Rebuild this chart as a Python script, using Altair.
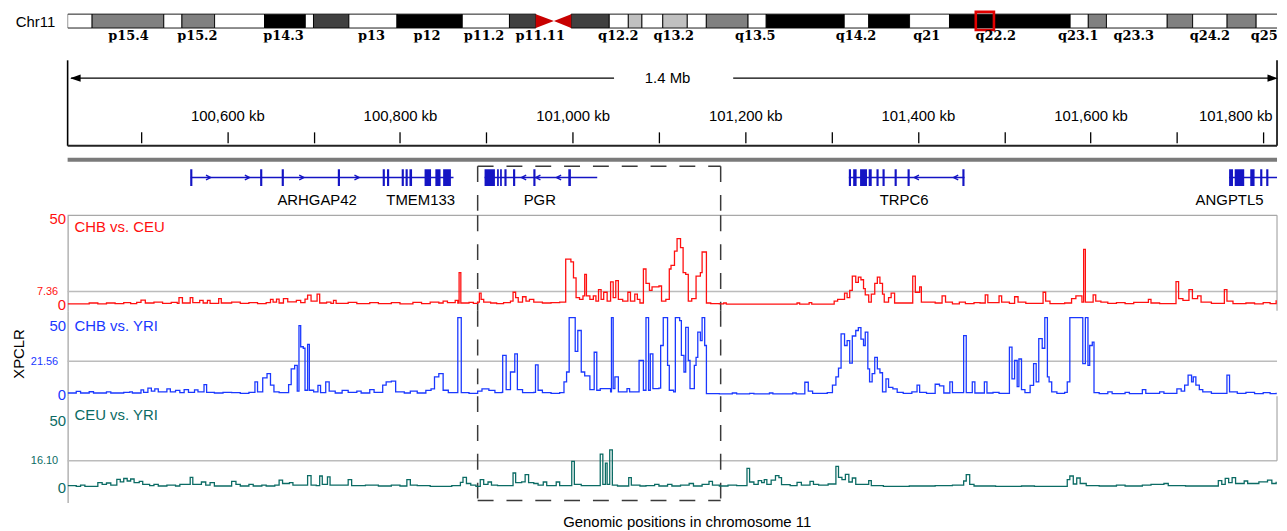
import altair as alt
import pandas as pd

FONT = "Liberation Sans"
W = 1217

# ---------------- data ----------------
X_MIN, X_MAX = 100415, 101816          # genomic window, kb
CHR_MAX = 133.3                        # visible part of chr11, Mb

# chromosome 11 ideogram (Mb)
band_start = [0, 2.7, 10.6, 12.6, 16.2, 21.7, 26.2, 27.1, 31.0, 36.3, 43.5, 48.7,
              55.5, 59.7, 61.8, 63.3, 65.6, 68.3, 70.4, 75.0, 77.0, 85.6, 88.3, 92.8,
              97.2, 110.5, 112.5, 114.5, 121.2, 124.0, 127.8, 131.0]
band_end = [2.7, 10.6, 12.6, 16.2, 21.7, 26.2, 27.1, 31.0, 36.3, 43.5, 48.7, 51.6,
            59.7, 61.8, 63.3, 65.6, 68.3, 70.4, 75.0, 77.0, 85.6, 88.3, 92.8, 97.2,
            110.5, 112.5, 114.5, 121.2, 124.0, 127.8, 131.0, 135.0]
band_stain = ["gneg", "gpos50", "gneg", "gpos50", "gneg", "gpos100", "gneg", "gpos75",
              "gneg", "gpos100", "gneg", "gpos75", "gpos75", "gneg", "gpos25", "gneg",
              "gpos25", "gneg", "gpos50", "gneg", "gpos100", "gneg", "gpos100", "gneg",
              "gpos100", "gneg", "gpos50", "gneg", "gpos50", "gneg", "gpos50", "gneg"]
stain_names = ["gneg", "gpos25", "gpos50", "gpos75", "gpos100"]
stain_colors = ["#ffffff", "#c0c0c0", "#808080", "#404040", "#000000"]
cen_x = [51.6, 53.6, 53.6, 55.5]
cen_arm = ["p", "p", "q", "q"]
cen_top = [1, 0.5, 0.5, 1]
cen_bot = [0, 0.5, 0.5, 0]
band_labels = ["p15.4", "p15.2", "p14.3", "p13", "p12", "p11.2", "p11.11", "q12.2",
               "q13.2", "q13.5", "q14.2", "q21", "q22.2", "q23.1", "q23.3", "q24.2", "q25"]
band_label_mb = [6.7, 14.3, 23.8, 33.5, 39.6, 45.9, 52.1, 60.7, 66.8, 75.8, 86.9, 94.7,
                 102.3, 111.4, 117.5, 125.9, 131.9]
region_mb = [100.1, 102.1]

# scale bar
scale_ticks_kb = [100500, 100600, 100700, 100800, 100900, 101000, 101100,
                  101200, 101300, 101400, 101500, 101600, 101700, 101800]
span_text = "1.4 Mb"
span_text_kb = 101110
span_left_end_kb = 101048
span_right_start_kb = 101186

# genes
gene_names = ["ARHGAP42", "TMEM133", "PGR", "TRPC6", "ANGPTL5"]
gene_label_kb = [100704, 100824, 100962, 101384, 101761]
gene_start = [100557.6, 100786, 100898, 101320, 101760.5]
gene_end = [100786, 100862, 101028.5, 101454, 101822]
exon_start = [100557, 100638, 100663, 100728, 100780, 100785,
              100802, 100806.5, 100811, 100828.5, 100841, 100850,
              100898, 100912.5, 100916, 100921, 100931, 100954.5, 100995,
              101320, 101325, 101333, 101343, 101352, 101359, 101373, 101388, 101451.5,
              101760.5, 101767, 101785, 101796.5, 101803.5]
exon_end = [100559.5, 100640.5, 100665.5, 100730.5, 100782.5, 100787.5,
            100804.5, 100809, 100814, 100836, 100847, 100859,
            100910, 100914.5, 100918, 100923.5, 100933.5, 100957, 100998,
            101322.5, 101329, 101341, 101346.5, 101354.5, 101361.5, 101375.5, 101390.5, 101454,
            101765, 101778, 101790, 101799, 101806]
chev_right_kb = [100578, 100623, 100686, 100750]
chev_left_kb = [100943.5, 100960, 100984, 101398.5, 101444]

# candidate region (dashed box)
box_kb = [100890, 101171.5]

# XPCLR scores (kb, score)
chb_ceu = [(100415,0.5),(100440,1.0),(100450,0.5),(100460,1.0),(100470,0.6),(100480,1.2),(100488,0.6),
 (100495,1.3),(100500,2.6),(100505,1.0),(100515,1.5),(100525,0.8),(100535,1.4),(100542,0.8),(100544,4.0),
 (100548,1.0),(100557,4.0),(100560,1.2),(100568,2.5),(100572,1.0),(100577,2.5),(100580,0.8),(100590,3.5),
 (100593,1.0),(100605,1.5),(100615,0.8),(100625,1.2),(100635,0.7),(100645,1.2),(100650,3.0),(100653,1.5),
 (100657,3.2),(100660,1.0),(100665,3.5),(100670,1.6),(100680,2.5),(100685,1.2),(100690,3.2),(100693,5.4),
 (100697,2.0),(100704,6.0),(100707,1.0),(100715,1.5),(100720,0.8),(100723,2.5),(100726,0.8),(100740,1.3),
 (100750,0.6),(100765,1.2),(100775,0.6),(100790,1.2),(100800,0.5),(100815,1.3),(100825,0.7),(100835,1.5),
 (100845,1.0),(100850,2.0),(100855,1.2),(100864,2.5),(100867,1.0),(100868.5,18.0),(100870.5,1.0),
 (100880,1.4),(100885,0.8),(100890,1.5),(100892,6.5),(100894,3.0),(100897,1.5),(100905,1.0),(100912,0.6),
 (100920,1.2),(100928,2.0),(100931,7.0),(100934,4.0),(100937,1.5),(100942,4.5),(100946,2.0),(100950,3.0),
 (100955,1.5),(100965,1.0),(100975,1.2),(100985,1.5),(100992,25.5),(100998,24.0),(101001,15.0),
 (101004,4.0),(101008,3.0),(101012,5.0),(101014,17.0),(101016,5.0),(101020,3.0),(101024,5.0),(101027,2.0),
 (101030,8.5),(101033,3.0),(101036,7.0),(101040,2.0),(101044,12.8),(101047,4.0),(101050,13.5),(101053,3.0),
 (101058,2.0),(101064,7.0),(101067,2.0),(101072,6.0),(101075,3.0),(101078,1.0),(101082,20.0),(101085,12.0),
 (101089,8.0),(101092,10.0),(101100,10.5),(101103,2.0),(101108,3.0),(101112,20.0),(101114,22.0),
 (101118,30.0),(101121,37.0),(101125,32.0),(101128,18.0),(101131,17.0),(101134,2.0),(101138,3.5),
 (101143,16.0),(101148,18.0),(101150,29.5),(101155,1.0),(101160,0.6),(101170,0.5),(101175,1.0),
 (101178,0.4),(101260,1.0),(101263,0.4),(101274,1.2),(101277,0.4),(101303,2.0),(101307,3.0),(101315,6.5),
 (101318,4.0),(101321,8.0),(101324,16.0),(101328,12.5),(101331,15.5),(101334,14.0),(101337,9.0),
 (101339,5.5),(101343,1.5),(101346,6.0),(101350,12.0),(101353,15.5),(101356,12.0),(101359,6.0),
 (101361,1.5),(101366,4.0),(101369,6.5),(101373,1.0),(101394,16.0),(101397,7.0),(101402,10.0),
 (101404,1.5),(101420,1.0),(101428,5.0),(101432,1.5),(101440,0.5),(101448,1.5),(101455,0.6),(101465,1.2),
 (101472,1.0),(101478,5.5),(101481,1.2),(101494,5.0),(101497,1.5),(101506,0.8),(101512,4.5),(101516,1.5),
 (101525,0.8),(101545,7.0),(101548,2.0),(101553,0.6),(101570,1.0),(101578,3.5),(101583,5.0),(101590,1.5),
 (101592,31.0),(101594,1.5),(101603,5.5),(101606,2.0),(101612,1.5),(101620,0.8),(101630,1.2),(101640,0.6),
 (101650,1.4),(101667,3.0),(101670,1.0),(101680,0.6),(101699,13.0),(101702,3.5),(101707,2.5),(101714,8.5),
 (101718,3.5),(101724,5.0),(101728,1.5),(101740,0.8),(101755,8.5),(101758,2.0),(101765,0.6),(101780,1.0),
 (101790,0.5),(101800,1.2),(101808,0.6),(101815,2.5)]

chb_yri = [(100415,0.8),(100425,1.8),(100430,0.8),(100440,1.6),(100445,0.8),(100460,1.5),(100465,0.8),
 (100480,1.2),(100487,1.5),(100490,0.8),(100500,2.8),(100503,1.2),(100508,4.0),(100512,2.0),(100516,3.5),
 (100520,1.5),(100530,3.5),(100534,1.5),(100540,2.5),(100545,1.0),(100550,3.0),(100555,1.2),(100562,2.8),
 (100566,1.5),(100573,6.3),(100576,1.2),(100585,0.8),(100595,1.2),(100605,1.0),(100615,0.6),(100625,1.2),
 (100632,8.0),(100635,1.5),(100641,10.6),(100646,13.4),(100650,6.0),(100654,1.5),(100660,1.0),(100671,6.3),
 (100674,16.6),(100678,18.8),(100681,2.0),(100683,44.8),(100685,31.0),(100688,30.0),(100690,2.6),
 (100693,32.6),(100695,2.6),(100700,1.5),(100705,5.8),(100708,1.0),(100714,8.0),(100718,2.0),(100725,0.8),
 (100733,2.5),(100740,1.2),(100750,2.0),(100755,0.8),(100765,3.0),(100770,1.2),(100780,6.0),(100784,8.0),
 (100790,8.5),(100795,1.5),(100805,0.8),(100812,2.0),(100820,0.8),(100830,2.5),(100836,3.5),(100840,11.3),
 (100845,13.4),(100850,2.6),(100856,1.0),(100867,50.0),(100871,1.0),(100880,0.6),(100890,2.0),(100895,3.5),
 (100903,2.5),(100910,1.0),(100918,1.2),(100919,25.3),(100923,3.0),(100928,14.5),(100933,26.4),(100936,3.0),
 (100942,1.0),(100955,1.2),(100957,19.2),(100960,2.6),(100965,1.0),(100975,0.6),(100985,1.0),(100990,8.0),
 (100993,14.5),(100996,50.0),(101003,28.0),(101006,41.6),(101010,14.5),(101014,12.0),(101020,3.0),
 (101025,27.4),(101028,2.6),(101032,3.7),(101044,1.5),(101045,50.0),(101047,3.7),(101049,11.3),(101053,1.5),
 (101063,3.7),(101066,1.5),(101077,22.0),(101079,22.0),(101082,2.6),(101085,50.0),(101088,2.6),(101090,26.4),
 (101093,3.7),(101100,4.0),(101102,31.8),(101105,50.0),(101110,18.8),(101112,2.6),(101117,1.5),(101119,50.0),
 (101124,48.0),(101126,25.3),(101129,14.5),(101131,43.7),(101134,22.0),(101136,3.7),(101141,18.8),
 (101143,24.0),(101145,40.5),(101148,35.0),(101150,50.0),(101153,31.8),(101155,0.4),(101170,0.2),
 (101185,0.8),(101190,0.2),(101205,0.6),(101210,0.2),(101228,0.8),(101232,0.2),(101255,0.8),(101259,0.2),
 (101269,7.8),(101273,2.0),(101278,0.5),(101295,1.0),(101301,6.0),(101305,11.3),(101308,17.0),(101311,39.4),
 (101315,31.8),(101318,35.0),(101321,20.3),(101324,38.0),(101328,41.6),(101331,43.5),(101334,36.0),
 (101337,31.8),(101339,40.5),(101342,16.6),(101344,8.0),(101347,13.4),(101350,24.0),(101353,16.6),
 (101356,14.0),(101359,1.5),(101363,10.0),(101366,4.5),(101371,3.5),(101376,1.2),(101383,0.5),(101393,1.5),
 (101399,6.0),(101402,1.2),(101410,0.6),(101420,6.5),(101425,5.5),(101430,0.8),(101437,8.0),(101440,1.0),
 (101453,38.2),(101456,1.0),(101463,8.0),(101466,0.8),(101477,8.0),(101480,0.8),(101487,1.2),(101494,0.6),
 (101506,30.8),(101509,10.0),(101512,22.0),(101515,5.0),(101517,23.0),(101520,3.0),(101524,1.0),(101530,5.8),
 (101534,20.0),(101537,8.0),(101540,36.3),(101544,30.0),(101547,50.0),(101550,11.3),(101552,8.0),
 (101555,1.5),(101561,0.5),(101570,1.2),(101573,8.0),(101576,50.0),(101591,20.0),(101594,50.0),
 (101597,18.8),(101599,31.8),(101602,34.0),(101604,1.0),(101610,0.4),(101620,1.5),(101625,0.4),(101640,1.2),
 (101645,0.4),(101660,3.0),(101664,0.6),(101680,1.5),(101685,0.6),(101700,3.5),(101705,2.0),(101709,6.0),
 (101713,12.4),(101717,8.0),(101719,11.3),(101722,6.0),(101726,3.0),(101730,1.5),(101740,0.5),(101758,12.4),
 (101761,1.5),(101770,0.6),(101780,1.2),(101790,0.4),(101800,1.0),(101808,0.4),(101815,1.0)]

ceu_yri = [(100415,1.2),(100425,0.8),(100430,1.5),(100435,0.8),(100450,3.0),(100455,2.0),(100460,2.8),
 (100465,1.5),(100472,5.0),(100476,3.5),(100480,5.5),(100484,4.0),(100488,5.2),(100492,3.0),(100498,3.8),
 (100502,2.0),(100510,1.2),(100515,2.0),(100520,1.0),(100530,1.5),(100540,1.0),(100545,2.0),(100557,6.2),
 (100560,2.0),(100570,3.4),(100575,1.5),(100580,3.0),(100585,1.0),(100605,3.8),(100610,2.0),(100615,1.0),
 (100625,2.0),(100630,1.0),(100640,1.5),(100645,1.0),(100655,1.5),(100660,4.5),(100664,2.5),(100672,3.0),
 (100676,1.5),(100693,7.2),(100697,1.5),(100703,1.2),(100707,7.0),(100710,2.0),(100716,6.5),(100719,1.5),
 (100740,4.8),(100744,1.2),(100760,1.5),(100775,1.0),(100790,1.5),(100800,1.0),(100808,4.8),(100812,1.5),
 (100820,1.2),(100835,0.8),(100860,1.2),(100870,3.2),(100873,6.2),(100877,2.5),(100882,1.5),(100888,0.8),
 (100893,4.8),(100897,2.0),(100902,3.4),(100906,1.5),(100913,1.2),(100931,8.8),(100934,3.0),(100941,3.5),
 (100945,7.8),(100949,3.0),(100955,2.5),(100960,1.5),(100966,3.4),(100970,1.2),(100981,3.4),(100985,1.2),
 (100999,15.7),(101002,2.0),(101010,1.2),(101032,20.1),(101035,2.0),(101038,14.7),(101040,2.0),
 (101043,22.6),(101046,1.5),(101052,1.0),(101065,6.0),(101068,1.5),(101078,1.0),(101085,1.2),(101095,2.0),
 (101100,1.0),(101110,2.0),(101115,1.0),(101125,1.5),(101135,2.5),(101140,1.0),(101150,2.0),(101158,3.8),
 (101162,1.5),(101170,1.0),(101180,1.5),(101190,1.2),(101202,11.6),(101205,3.4),(101210,2.0),(101215,4.2),
 (101219,3.0),(101222,4.8),(101225,2.0),(101230,4.5),(101235,7.2),(101239,6.0),(101242,1.8),(101252,1.2),
 (101260,3.2),(101265,1.5),(101275,3.8),(101279,2.0),(101285,1.5),(101296,2.2),(101305,12.8),(101308,6.2),
 (101312,4.8),(101316,8.0),(101320,3.4),(101324,5.8),(101328,2.0),(101343,4.2),(101346,1.2),(101360,0.8),
 (101390,1.0),(101420,1.2),(101440,1.5),(101453,4.0),(101456,7.8),(101460,2.0),(101465,1.0),(101490,0.8),
 (101520,1.0),(101535,0.8),(101573,4.8),(101576,7.0),(101580,2.2),(101584,5.8),(101588,2.5),(101595,1.2),
 (101610,1.0),(101630,1.5),(101640,1.0),(101660,1.5),(101670,2.0),(101685,2.5),(101690,1.2),(101710,1.0),
 (101748,4.2),(101752,2.0),(101756,5.6),(101760,3.0),(101764,6.0),(101768,2.5),(101778,4.0),(101782,2.5),
 (101795,3.5),(101805,4.5),(101810,2.5),(101815,3.5)]

track_names = ["CHB vs. CEU", "CHB vs. YRI", "CEU vs. YRI"]
track_thresholds = [7.36, 21.56, 16.10]
track_colors = ["#ff1010", "#1a38ff", "#0b6b64"]

# ---------------- helpers ----------------
ONE = pd.DataFrame({"k": [0]})


def xs():
    return alt.Scale(domain=[X_MIN, X_MAX], nice=False, zero=False)


def Xq(field, axis=None):
    return alt.X(field, type="quantitative", scale=xs(), axis=axis)


def Xd(val, axis=None):
    return alt.XDatum(datum=val, type="quantitative", scale=xs(), axis=axis)


def ysc(lo, hi):
    return alt.Scale(domain=[lo, hi], nice=False, zero=False)


# ---------------- panel A: ideogram ----------------
A_LO, A_HI = -1.036, 1.18
ideo_x = alt.Scale(domain=[0, CHR_MAX], nice=False, zero=False)
axA = alt.Axis(title="Chr11", titleAngle=0, titleAlign="right", titleBaseline="middle",
               titleX=-13, titleY=10, labels=False, ticks=False, domain=False, grid=False,
               titleFontSize=15, titleFontWeight="normal", titleColor="black")


def YA(val):
    return alt.YDatum(datum=val, type="quantitative", scale=ysc(A_LO, A_HI), axis=axA)


bands = pd.DataFrame({"s": band_start, "e": band_end, "stain": band_stain})
cen = pd.DataFrame({"x": cen_x, "arm": cen_arm, "top": cen_top, "bot": cen_bot})
blabels = pd.DataFrame({"x": band_label_mb, "t": band_labels})
region = pd.DataFrame({"s": [region_mb[0]], "e": [region_mb[1]]})

pA = alt.layer(
    alt.Chart(bands).mark_rect(stroke="black", strokeWidth=0.9, clip=True).encode(
        x=alt.X("s:Q", scale=ideo_x, axis=None), x2="e:Q",
        y=YA(0), y2=alt.Y2Datum(datum=1),
        color=alt.Color("stain:N", scale=alt.Scale(domain=stain_names, range=stain_colors), legend=None)),
    alt.Chart(cen).mark_area(color="#c80000", orient="vertical").encode(
        x=alt.X("x:Q", scale=ideo_x, axis=None),
        y=alt.Y("top:Q", scale=ysc(A_LO, A_HI), axis=axA), y2="bot:Q", detail="arm:N"),
    alt.Chart(region).mark_rect(fillOpacity=0, stroke="#e00000", strokeWidth=2.6).encode(
        x=alt.X("s:Q", scale=ideo_x, axis=None), x2="e:Q",
        y=YA(-0.14), y2=alt.Y2Datum(datum=1.16)),
    alt.Chart(blabels).mark_text(font="DejaVu Serif", fontWeight="bold", fontSize=13,
                                 baseline="middle", color="black", clip=True).encode(
        x=alt.X("x:Q", scale=ideo_x, axis=None), y=YA(-0.55), text="t:N"),
).properties(width=W, height=31)

# ---------------- panel B: 1.4 Mb bracket ----------------
B_TOP, B_ARROW = 0.827, 0.654


def YB(val):
    return alt.YDatum(datum=val, type="quantitative", scale=ysc(0, 1), axis=None)


brk = pd.DataFrame({"x": [X_MIN, X_MAX]})
arr = pd.DataFrame({"x": [X_MIN + 4, span_right_start_kb], "x2": [span_left_end_kb, X_MAX - 4]})
head_l = pd.DataFrame({"x": [X_MIN + 9]})
head_r = pd.DataFrame({"x": [X_MAX - 5]})
spn = pd.DataFrame({"x": [span_text_kb], "t": [span_text]})

pB = alt.layer(
    alt.Chart(brk).mark_rule(color="black", strokeWidth=1.6).encode(
        x=Xq("x:Q"), y=YB(0), y2=alt.Y2Datum(datum=B_TOP)),
    alt.Chart(arr).mark_rule(color="black", strokeWidth=1.3).encode(
        x=Xq("x:Q"), x2="x2:Q", y=YB(B_ARROW)),
    alt.Chart(head_l).mark_point(shape="M-1,0L1,-0.7L1,0.7Z", filled=True, size=110,
                                 color="black", opacity=1).encode(x=Xq("x:Q"), y=YB(B_ARROW)),
    alt.Chart(head_r).mark_point(shape="M1,0L-1,-0.7L-1,0.7Z", filled=True, size=110,
                                 color="black", opacity=1).encode(x=Xq("x:Q"), y=YB(B_ARROW)),
    alt.Chart(spn).mark_text(fontSize=15, baseline="middle", color="black").encode(
        x=Xq("x:Q"), y=YB(B_ARROW), text="t:N"),
).properties(width=W, height=104)

# ---------------- panel C: kb axis ----------------
top_axis = alt.Axis(orient="top", values=scale_ticks_kb,
                    labelExpr="datum.value % 200 == 0 ? format(datum.value, ',') + ' kb' : ''",
                    tickSize=11, tickColor="black", tickWidth=1.3, domain=False, offset=3,
                    labelPadding=8, labelFontSize=15, labelColor="black", labelAngle=0,
                    labelFlush=20, labelFlushOffset=9, grid=False, title=None)
line_c = pd.DataFrame({"x": [X_MIN], "x2": [X_MAX]})

pC = alt.layer(
    alt.Chart(line_c).mark_rule(color="#222222", strokeWidth=2).encode(
        x=alt.X("x:Q", scale=xs(), axis=top_axis), x2="x2:Q",
        y=alt.YDatum(datum=1, type="quantitative", scale=ysc(0, 1), axis=None)),
    alt.Chart(line_c).mark_rule(color="#7a7a7a", strokeWidth=4).encode(
        x=alt.X("x:Q", scale=xs(), axis=top_axis), x2="x2:Q",
        y=alt.YDatum(datum=0.125, type="quantitative", scale=ysc(0, 1), axis=None)),
).properties(width=W, height=16)

# ---------------- panel D: genes ----------------
GENE_C = "#1414c4"
G_MID, G_LO, G_HI, G_LAB, BOX_TOP = 0.704, 0.547, 0.861, 0.278, 0.917


def YD(val):
    return alt.YDatum(datum=val, type="quantitative", scale=ysc(0, 1), axis=None)


genes = pd.DataFrame({"s": gene_start, "e": gene_end})
exons = pd.DataFrame({"s": exon_start, "e": exon_end})
glabels = pd.DataFrame({"x": gene_label_kb, "t": gene_names})
chr_df = pd.DataFrame({"x": chev_right_kb})
chl_df = pd.DataFrame({"x": chev_left_kb})
box_df = pd.DataFrame({"x": box_kb})
box_top = pd.DataFrame({"x": [box_kb[0]], "x2": [box_kb[1]]})
DASH = [16, 13]
BOX_C = "#3a3a3a"

pD = alt.layer(
    alt.Chart(genes).mark_rule(color=GENE_C, strokeWidth=1.6, clip=True).encode(
        x=Xq("s:Q"), x2="e:Q", y=YD(G_MID)),
    alt.Chart(exons).mark_rect(color=GENE_C, clip=True).encode(
        x=Xq("s:Q"), x2="e:Q", y=YD(G_LO), y2=alt.Y2Datum(datum=G_HI)),
    alt.Chart(chr_df).mark_point(shape="M-1,-1L1,0L-1,1", filled=False, size=22, strokeWidth=1.4,
                                 color=GENE_C, opacity=1).encode(x=Xq("x:Q"), y=YD(G_MID)),
    alt.Chart(chl_df).mark_point(shape="M1,-1L-1,0L1,1", filled=False, size=22, strokeWidth=1.4,
                                 color=GENE_C, opacity=1).encode(x=Xq("x:Q"), y=YD(G_MID)),
    alt.Chart(glabels).mark_text(fontSize=15, baseline="middle", color="black", clip=True).encode(
        x=Xq("x:Q"), y=YD(G_LAB), text="t:N"),
    alt.Chart(box_top).mark_rule(color=BOX_C, strokeWidth=1.5, strokeDash=DASH).encode(
        x=Xq("x:Q"), x2="x2:Q", y=YD(BOX_TOP)),
    alt.Chart(box_df).mark_rule(color=BOX_C, strokeWidth=1.5, strokeDash=DASH).encode(
        x=Xq("x:Q"), y=YD(BOX_TOP), y2=alt.Y2Datum(datum=0)),
).properties(width=W, height=54)


# ---------------- panels E: XPCLR tracks ----------------
def track(i, data, lo, hi, h, label_y, off50, ytitle=None, top_border=False,
          right_border_to=None, box_bottom=None, x_title=None):
    color = track_colors[i]
    thr = track_thresholds[i]
    ax_kwargs = dict(values=[0, thr, 50],
                     labelExpr="datum.value == 0 || datum.value == 50 ? datum.label : format(datum.value, '.2f')",
                     labelColor=color,
                     labelFontSize=alt.expr(f"datum.value == {thr} ? 11 : 15"),
                     labelPadding=alt.expr(f"datum.value == {thr} ? 10 : 2"),
                     labelOffset=alt.expr(f"datum.value == 50 ? {off50} : 0"),
                     ticks=False, domainColor="#a0a0a0", domainWidth=1.2,
                     grid=False)
    if ytitle:
        ax_kwargs.update(title=ytitle, titleX=-44, titleBaseline="alphabetic", titleAngle=270,
                         titleFontSize=15, titleFontWeight="normal", titleColor="black")
    else:
        ax_kwargs.update(title=None)
    yax = alt.Axis(**ax_kwargs)
    sc = ysc(lo, hi)

    def Yd(v):
        return alt.YDatum(datum=v, type="quantitative", scale=sc, axis=yax)

    if x_title:
        xax = alt.Axis(title=x_title, labels=False, ticks=False, domain=False, grid=False,
                       titleFontSize=15, titleFontWeight="normal", titleColor="black",
                       titleX=623, titleY=12, titleBaseline="top", titleAlign="center")
    else:
        xax = None

    def XQ(field):
        return Xq(field, axis=xax)

    def XD(val):
        return Xd(val, axis=xax)

    df = pd.DataFrame({"kb": [p[0] for p in data], "v": [p[1] for p in data]})
    layers = [
        alt.Chart(ONE).mark_rule(color="#bcbcbc", strokeWidth=1.5).encode(
            x=XD(X_MIN), x2=alt.X2Datum(datum=X_MAX), y=Yd(thr)),
    ]
    if top_border:
        layers.append(alt.Chart(ONE).mark_rule(color="#a8a8a8", strokeWidth=1.2).encode(
            x=XD(X_MIN), x2=alt.X2Datum(datum=X_MAX), y=Yd(hi)))
    if right_border_to is not None:
        layers.append(alt.Chart(ONE).mark_rule(color="#a8a8a8", strokeWidth=1.2).encode(
            x=XD(X_MAX), y=Yd(hi), y2=alt.Y2Datum(datum=right_border_to)))
    if box_bottom is None:
        layers.append(alt.Chart(box_df).mark_rule(color=BOX_C, strokeWidth=1.5, strokeDash=DASH).encode(
            x=XQ("x:Q"), y=Yd(hi), y2=alt.Y2Datum(datum=lo)))
    else:
        layers.append(alt.Chart(box_df).mark_rule(color=BOX_C, strokeWidth=1.5, strokeDash=DASH).encode(
            x=XQ("x:Q"), y=Yd(hi), y2=alt.Y2Datum(datum=box_bottom)))
        layers.append(alt.Chart(box_top).mark_rule(color=BOX_C, strokeWidth=1.5, strokeDash=DASH).encode(
            x=XQ("x:Q"), x2="x2:Q", y=Yd(box_bottom)))
    layers.append(alt.Chart(ONE).mark_text(text=track_names[i], align="left", baseline="middle",
                                           fontSize=15, color=color).encode(
        x=XD(X_MIN + 8), y=Yd(label_y)))
    layers.append(
        alt.Chart(df).mark_line(interpolate="step-after", color=color, strokeWidth=1.3, clip=True).encode(
            x=XQ("kb:Q"), y=alt.Y("v:Q", scale=sc, axis=yax)))
    return alt.layer(*layers).properties(width=W, height=h)


pE1 = track(0, chb_ceu, -3.33, 50, 96, 43.5, 3, top_border=True, right_border_to=-3.33)
pE2 = track(1, chb_yri, -1.3, 54.5, 86, 44.8, 8, ytitle="XPCLR")
pE3 = track(2, ceu_yri, -8.9, 54.8, 107, 43.5, 16, right_border_to=16.1, box_bottom=-7.7,
            x_title="Genomic positions in chromosome 11")

chart = alt.vconcat(pA, pB, pC, pD, pE1, pE2, pE3, spacing=0, bounds="flush").properties(
    padding={"left": 4, "top": 0, "right": 0, "bottom": 0}
).configure(font=FONT).configure_view(stroke=None).configure_axis(grid=False)

chart.save("out.html", embed_options={"renderer": "svg", "actions": False})
